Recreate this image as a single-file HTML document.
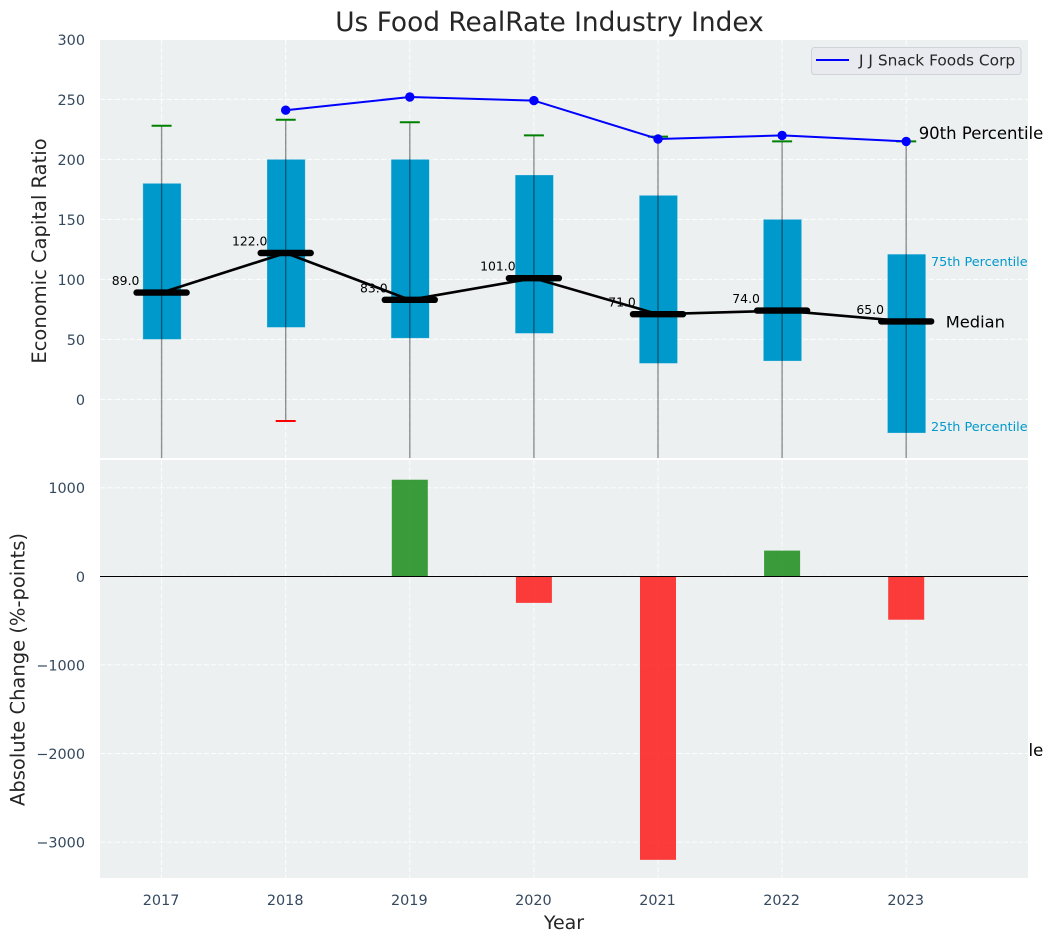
<!DOCTYPE html>
<html lang="en">
<head>
<meta charset="utf-8">
<title>Us Food RealRate Industry Index</title>
<style>
html,body{margin:0;padding:0;background:#fff;}
svg{display:block;}
text{font-family:"DejaVu Sans","Liberation Sans",sans-serif;}
</style>
</head>
<body>
<svg id="chart" xmlns="http://www.w3.org/2000/svg" width="1054" height="942" viewBox="0 0 1054 942"></svg>
<script>
const years = [2017, 2018, 2019, 2020, 2021, 2022, 2023];
const q25 = [50, 60, 51, 55, 30, 32, -28];
const q75 = [180, 200, 200, 187, 170, 150, 121];
const medians = [89, 122, 83, 101, 71, 74, 65];
const p90 = [228, 233, 231, 220, 219, 215, 215];
const p10 = [-70, -18, -90, -80, -100, -110, -299];
const companyYears = [2018, 2019, 2020, 2021, 2022, 2023];
const companyValues = [241, 252, 249, 217, 220, 215];
const changeYears = [2019, 2020, 2021, 2022, 2023];
const changeValues = [1090, -300, -3200, 290, -490];
const topTicks = [0, 50, 100, 150, 200, 250, 300];
const bottomTicks = [1000, 0, -1000, -2000, -3000];

const svg = document.getElementById('chart');
const NS = 'http://www.w3.org/2000/svg';
const L = 100, R = 1028, T1 = 40, B1 = 458, T2 = 460, B2 = 878;
const xScale = v => 161.6 + (v - 2017) * 124.1;
const yTop = v => 399.4 - v * 1.2;
const yBottom = v => 576.3 - v * 0.0886;
const DASH = '5.2 2.2';

function make(tag, attrs, parent, content) {
  const el = document.createElementNS(NS, tag);
  for (const k in attrs) el.setAttribute(k, attrs[k]);
  if (content !== undefined) el.textContent = content;
  (parent || svg).appendChild(el);
  return el;
}
function fmt(v) { return String(v).replace('-', '\u2212'); }

const defs = make('defs', {});
const clip1 = make('clipPath', { id: 'clip-top' }, defs);
make('rect', { x: L, y: T1, width: R - L, height: B1 - T1 }, clip1);
const clip2 = make('clipPath', { id: 'clip-bottom' }, defs);
make('rect', { x: L, y: T2, width: R - L, height: B2 - T2 }, clip2);

// Title and axis titles
const title = make('text', { x: 549.5, y: 31, 'font-size': 26.4, fill: '#262626', 'text-anchor': 'middle' }, svg, 'Us Food RealRate Industry Index');


const yt1 = make('text', { transform: 'translate(46 251) rotate(-90)', 'font-size': 19.5, fill: '#262626', 'text-anchor': 'middle' }, svg, 'Economic Capital Ratio');


const yt2 = make('text', { transform: 'translate(24.5 669.5) rotate(-90)', 'font-size': 19.5, fill: '#262626', 'text-anchor': 'middle' }, svg, 'Absolute Change (%-points)');


const xt = make('text', { x: 564, y: 929, 'font-size': 19, fill: '#262626', 'text-anchor': 'middle' }, svg, 'Year');



// Top axes
const topGroup = make('g', {});


const bg1 = make('rect', { x: L, y: T1, width: R - L, height: B1 - T1, fill: '#ecf0f1' }, topGroup);



topTicks.forEach(t => {
  const g = make('line', { x1: L, x2: R, y1: yTop(t), y2: yTop(t), stroke: '#fff', 'stroke-opacity': 0.9, 'stroke-width': 1, 'stroke-dasharray': DASH }, topGroup);
  
  
  const lab = make('text', { x: 85, y: yTop(t) + 5.5, 'font-size': 14.4, fill: '#34495e', 'text-anchor': 'end' }, svg, fmt(t));
  
  
});
years.forEach(y => {
  const g = make('line', { x1: xScale(y), x2: xScale(y), y1: T1, y2: B1, stroke: '#fff', 'stroke-opacity': 0.9, 'stroke-width': 1, 'stroke-dasharray': DASH }, topGroup);
  
  
});

const plot1 = make('g', { 'clip-path': 'url(#clip-top)' }, topGroup);
years.forEach((y, i) => {
  const cx = xScale(y);
  const box = make('rect', { x: cx - 18.7, y: yTop(q75[i]), width: 38.2, height: yTop(q25[i]) - yTop(q75[i]), fill: '#0099cc', stroke: '#d5eef6', 'stroke-opacity': 0.5, 'stroke-width': 0.6 }, plot1);
  
  
  const wh = make('line', { x1: cx, x2: cx, y1: yTop(p90[i]), y2: yTop(p10[i]), stroke: '#000', 'stroke-opacity': 0.42, 'stroke-width': 1.4 }, plot1);
  
  
  const capHi = make('line', { x1: cx - 10, x2: cx + 10, y1: yTop(p90[i]), y2: yTop(p90[i]), stroke: '#008000', 'stroke-width': 2 }, plot1);
  
  
  const capLo = make('line', { x1: cx - 10, x2: cx + 10, y1: yTop(p10[i]), y2: yTop(p10[i]), stroke: '#ff0000', 'stroke-width': 2 }, plot1);
  
  
});

const medianPath = make('polyline', { points: years.map((y, i) => xScale(y) + ',' + yTop(medians[i])).join(' '), fill: 'none', stroke: '#000', 'stroke-width': 2.6, 'stroke-linejoin': 'round' }, plot1);


years.forEach((y, i) => {
  const cx = xScale(y);
  const m = make('line', { x1: cx - 25, x2: cx + 25, y1: yTop(medians[i]), y2: yTop(medians[i]), stroke: '#000', 'stroke-width': 6.4, 'stroke-linecap': 'round' }, plot1);
  
  
  const lab = make('text', { x: cx - 36, y: yTop(medians[i]) - 7.5, 'font-size': 12.4, fill: '#000', 'text-anchor': 'middle' }, topGroup, medians[i].toFixed(1));
  
  
});

const companyLine = make('polyline', { points: companyYears.map((y, i) => xScale(y) + ',' + yTop(companyValues[i])).join(' '), fill: 'none', stroke: '#0000ff', 'stroke-width': 2 }, plot1);


companyYears.forEach((y, i) => {
  const c = make('circle', { cx: xScale(y), cy: yTop(companyValues[i]), r: 4.7, fill: '#0000ff' }, plot1);
  
  
});

// Percentile annotations anchored to the last year
const last = years.length - 1;
const lx = xScale(years[last]);
const a10 = make('text', { x: lx + 12.5, y: yTop(p10[last]) - 2.4, 'font-size': 16.5, fill: '#000' }, svg, '10th Percentile');


const a90 = make('text', { x: lx + 12.5, y: yTop(p90[last]) - 2.4, 'font-size': 16.5, fill: '#000' }, svg, '90th Percentile');


const a75 = make('text', { x: lx + 24.8, y: yTop(q75[last]) + 12, 'font-size': 12.8, fill: '#0099cc' }, svg, '75th Percentile');


const a25 = make('text', { x: lx + 24.8, y: yTop(q25[last]) - 2, 'font-size': 12.8, fill: '#0099cc' }, svg, '25th Percentile');


const aMed = make('text', { x: lx + 39.5, y: yTop(medians[last]) + 6, 'font-size': 16.3, fill: '#000' }, svg, 'Median');



// Legend
const legend = make('g', {});


make('rect', { x: 811.5, y: 47.5, width: 209.5, height: 27, rx: 3, fill: '#e8eaef', stroke: '#cfd2d6', 'stroke-width': 1 }, legend);
const legendLine = make('line', { x1: 816, x2: 849, y1: 60, y2: 60, stroke: '#0000ff', 'stroke-width': 2 }, legend);


const legendText = make('text', { x: 859, y: 65.5, 'font-size': 15.4, fill: '#262626' }, legend, 'J J Snack Foods Corp');



// Bottom axes
const bottomGroup = make('g', {});


const bg2 = make('rect', { x: L, y: T2, width: R - L, height: B2 - T2, fill: '#ecf0f1' }, bottomGroup);



bottomTicks.forEach(t => {
  const g = make('line', { x1: L, x2: R, y1: yBottom(t), y2: yBottom(t), stroke: '#fff', 'stroke-opacity': 0.9, 'stroke-width': 1, 'stroke-dasharray': DASH }, bottomGroup);
  
  
  const lab = make('text', { x: 85, y: yBottom(t) + 5.5, 'font-size': 14.4, fill: '#34495e', 'text-anchor': 'end' }, svg, fmt(t));
  
  
});
years.forEach(y => {
  const g = make('line', { x1: xScale(y), x2: xScale(y), y1: T2, y2: B2, stroke: '#fff', 'stroke-opacity': 0.9, 'stroke-width': 1, 'stroke-dasharray': DASH }, bottomGroup);
  
  
  const lab = make('text', { x: xScale(y) - 0.5, y: 905, 'font-size': 14.4, fill: '#34495e', 'text-anchor': 'middle' }, svg, String(y));
  
  
});

const plot2 = make('g', { 'clip-path': 'url(#clip-bottom)' }, bottomGroup);
changeYears.forEach((y, i) => {
  const v = changeValues[i];
  const top = Math.min(yBottom(v), yBottom(0));
  const h = Math.abs(yBottom(v) - yBottom(0));
  const b = make('rect', { x: xScale(y) - 18, y: top, width: 36, height: h, fill: v >= 0 ? '#008000' : '#ff0000', 'fill-opacity': 0.76 }, plot2);
  
  
});
const zero = make('line', { x1: L, x2: R, y1: 576.5, y2: 576.5, stroke: '#000', 'stroke-width': 1.1 }, bottomGroup);


</script>
</body>
</html>
